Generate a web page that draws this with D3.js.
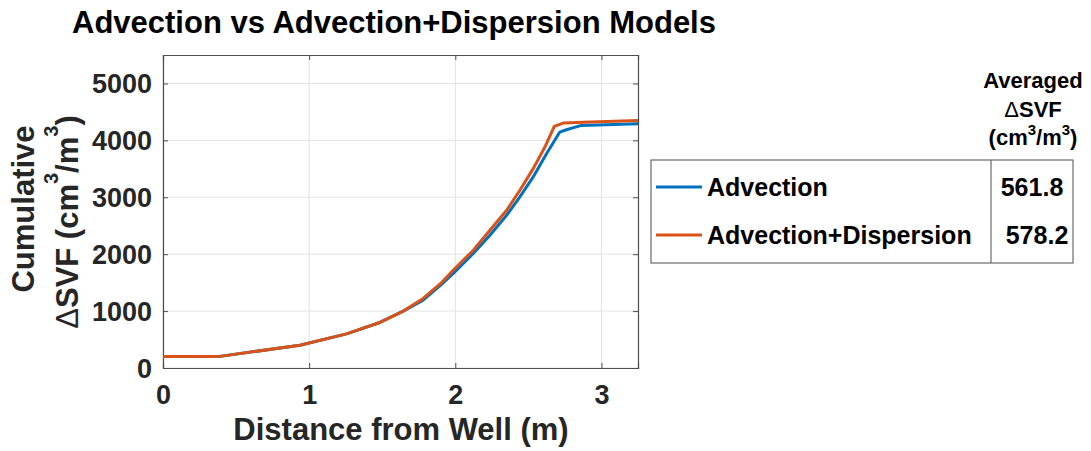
<!DOCTYPE html>
<html>
<head>
<meta charset="utf-8">
<script src="https://cdn.jsdelivr.net/npm/d3@7"></script>
<style>
  body { margin: 0; background: #fff; }
  svg { display: block; font-family: "Liberation Sans", Arial, sans-serif; font-weight: bold; }
</style>
</head>
<body>
<svg id="chart" width="1091" height="451"></svg>
<script>
// Cumulative ΔSVF along distance from the well, two transport models
const distAdv = [0, 0.378, 0.937, 1.256, 1.484, 1.644, 1.78, 1.90, 1.997, 2.123, 2.237, 2.351, 2.442, 2.533, 2.624, 2.715, 2.76, 2.863, 3.25];
const svfAdv  = [200, 200, 400, 600, 800, 1000, 1193, 1456, 1690, 2012, 2333, 2684, 3006, 3357, 3766, 4146, 4187, 4263, 4293];

const distDisp = [0, 0.378, 0.937, 1.256, 1.484, 1.644, 1.78, 1.90, 1.997, 2.123, 2.237, 2.351, 2.442, 2.533, 2.613, 2.677, 2.738, 2.875, 3.25];
const svfDisp  = [200, 200, 400, 600, 800, 1000, 1222, 1486, 1749, 2070, 2421, 2772, 3123, 3503, 3883, 4246, 4304, 4320, 4351];

const xTicks = [0, 1, 2, 3];
const yTicks = [0, 1000, 2000, 3000, 4000, 5000];

const seriesNames = ["Advection", "Advection+Dispersion"];
const seriesColors = ["#0072BD", "#D95319"];
const averagedSVF = ["561.8", "578.2"];

const svg = d3.select("#chart");
const m = { left: 163, right: 638, top: 55, bottom: 368 };

const x = d3.scaleLinear().domain([0, 3.25]).range([m.left, m.right]);
const y = d3.scaleLinear().domain([0, 5500]).range([m.bottom, m.top]);

// grid
const grid = svg.append("g").attr("stroke", "#e3e3e3").attr("stroke-width", 1);
xTicks.forEach(t => grid.append("line").attr("x1", x(t)).attr("x2", x(t)).attr("y1", m.top).attr("y2", m.bottom));
yTicks.forEach(t => grid.append("line").attr("y1", y(t)).attr("y2", y(t)).attr("x1", m.left).attr("x2", m.right));

// axes with ticks on all four sides
const axColor = "#4d4d4d";
const bottomAx = svg.append("g").attr("transform", `translate(0,${m.bottom})`)
  .call(d3.axisBottom(x).tickValues(xTicks).tickSize(-5).tickFormat(d3.format("d")));
const topAx = svg.append("g").attr("transform", `translate(0,${m.top})`)
  .call(d3.axisTop(x).tickValues(xTicks).tickSize(-5).tickFormat(""));
const leftAx = svg.append("g").attr("transform", `translate(${m.left},0)`)
  .call(d3.axisLeft(y).tickValues(yTicks).tickSize(-5).tickPadding(11).tickFormat(d3.format("d")));
const rightAx = svg.append("g").attr("transform", `translate(${m.right},0)`)
  .call(d3.axisRight(y).tickValues(yTicks).tickSize(-5).tickFormat(""));
[bottomAx, topAx, leftAx, rightAx].forEach(g => {
  g.selectAll("path.domain").attr("stroke", axColor).attr("stroke-width", 1.2);
  g.selectAll(".tick line").attr("stroke", axColor);
  g.selectAll("text").attr("fill", "#262626").attr("font-size", 27).attr("font-weight", "bold")
    .attr("font-family", "Liberation Sans, Arial, sans-serif");
});
bottomAx.selectAll("text").attr("y", 36).attr("dy", 0);
leftAx.selectAll("text").attr("dy", "0.35em");

// lines
const line = d3.line().x(d => x(d[0])).y(d => y(d[1]));
const seriesData = [d3.zip(distAdv, svfAdv), d3.zip(distDisp, svfDisp)];
seriesData.forEach((d, i) => {
  svg.append("path").datum(d).attr("d", line)
    .attr("fill", "none").attr("stroke", seriesColors[i]).attr("stroke-width", 3)
    .attr("stroke-linejoin", "round");
});

// title
svg.append("text").attr("x", 72).attr("y", 33).attr("font-size", 31).attr("fill", "#000")
  .text("Advection vs Advection+Dispersion Models");

// axis labels
svg.append("text").attr("x", 401).attr("y", 440).attr("text-anchor", "middle")
  .attr("font-size", 31).attr("fill", "#262626").text("Distance from Well (m)");

svg.append("text").attr("transform", "translate(34,209) rotate(-90)").attr("text-anchor", "middle")
  .attr("font-size", 31).attr("fill", "#262626").text("Cumulative");
const yl2 = svg.append("text").attr("transform", "translate(78,222) rotate(-90)").attr("text-anchor", "middle")
  .attr("font-size", 31).attr("fill", "#262626");
yl2.append("tspan").attr("font-weight", "normal").text("\u0394");
yl2.append("tspan").text("SVF (cm");
yl2.append("tspan").attr("dy", -20).attr("font-size", 20).text("3");
yl2.append("tspan").attr("dy", 20).text("/m");
yl2.append("tspan").attr("dy", -20).attr("font-size", 20).text("3");
yl2.append("tspan").attr("dy", 20).text(")");

// legend table
const lg = { left: 651, right: 1073, top: 160, bottom: 263, split: 991 };
svg.append("rect").attr("x", lg.left).attr("y", lg.top).attr("width", lg.right - lg.left)
  .attr("height", lg.bottom - lg.top).attr("fill", "#fff").attr("stroke", "#4d4d4d").attr("stroke-width", 1);
svg.append("line").attr("x1", lg.split).attr("x2", lg.split).attr("y1", lg.top).attr("y2", lg.bottom)
  .attr("stroke", "#4d4d4d").attr("stroke-width", 1);

const rowY = [187, 235];
const valueX = [1032, 1037];
seriesNames.forEach((name, i) => {
  svg.append("line").attr("x1", 656).attr("x2", 702).attr("y1", rowY[i]).attr("y2", rowY[i])
    .attr("stroke", seriesColors[i]).attr("stroke-width", 3);
  svg.append("text").attr("x", 707).attr("y", rowY[i] + 8.5)
    .attr("font-size", 25).attr("fill", "#000").text(name);
  svg.append("text").attr("x", valueX[i]).attr("y", rowY[i] + 8.5)
    .attr("text-anchor", "middle").attr("font-size", 25).attr("fill", "#000").text(averagedSVF[i]);
});

// column header
const hx = 1033;
svg.append("text").attr("x", hx).attr("y", 88).attr("text-anchor", "middle").attr("font-size", 22)
  .attr("fill", "#000").text("Averaged");
const h2 = svg.append("text").attr("x", hx).attr("y", 117).attr("text-anchor", "middle").attr("font-size", 22)
  .attr("fill", "#000");
h2.append("tspan").attr("font-weight", "normal").text("\u0394");
h2.append("tspan").text("SVF");
const h3 = svg.append("text").attr("x", hx).attr("y", 145).attr("text-anchor", "middle").attr("font-size", 22)
  .attr("fill", "#000");
h3.append("tspan").text("(cm");
h3.append("tspan").attr("dy", -10).attr("font-size", 15).text("3");
h3.append("tspan").attr("dy", 10).text("/m");
h3.append("tspan").attr("dy", -10).attr("font-size", 15).text("3");
h3.append("tspan").attr("dy", 10).text(")");
</script>
</body>
</html>
